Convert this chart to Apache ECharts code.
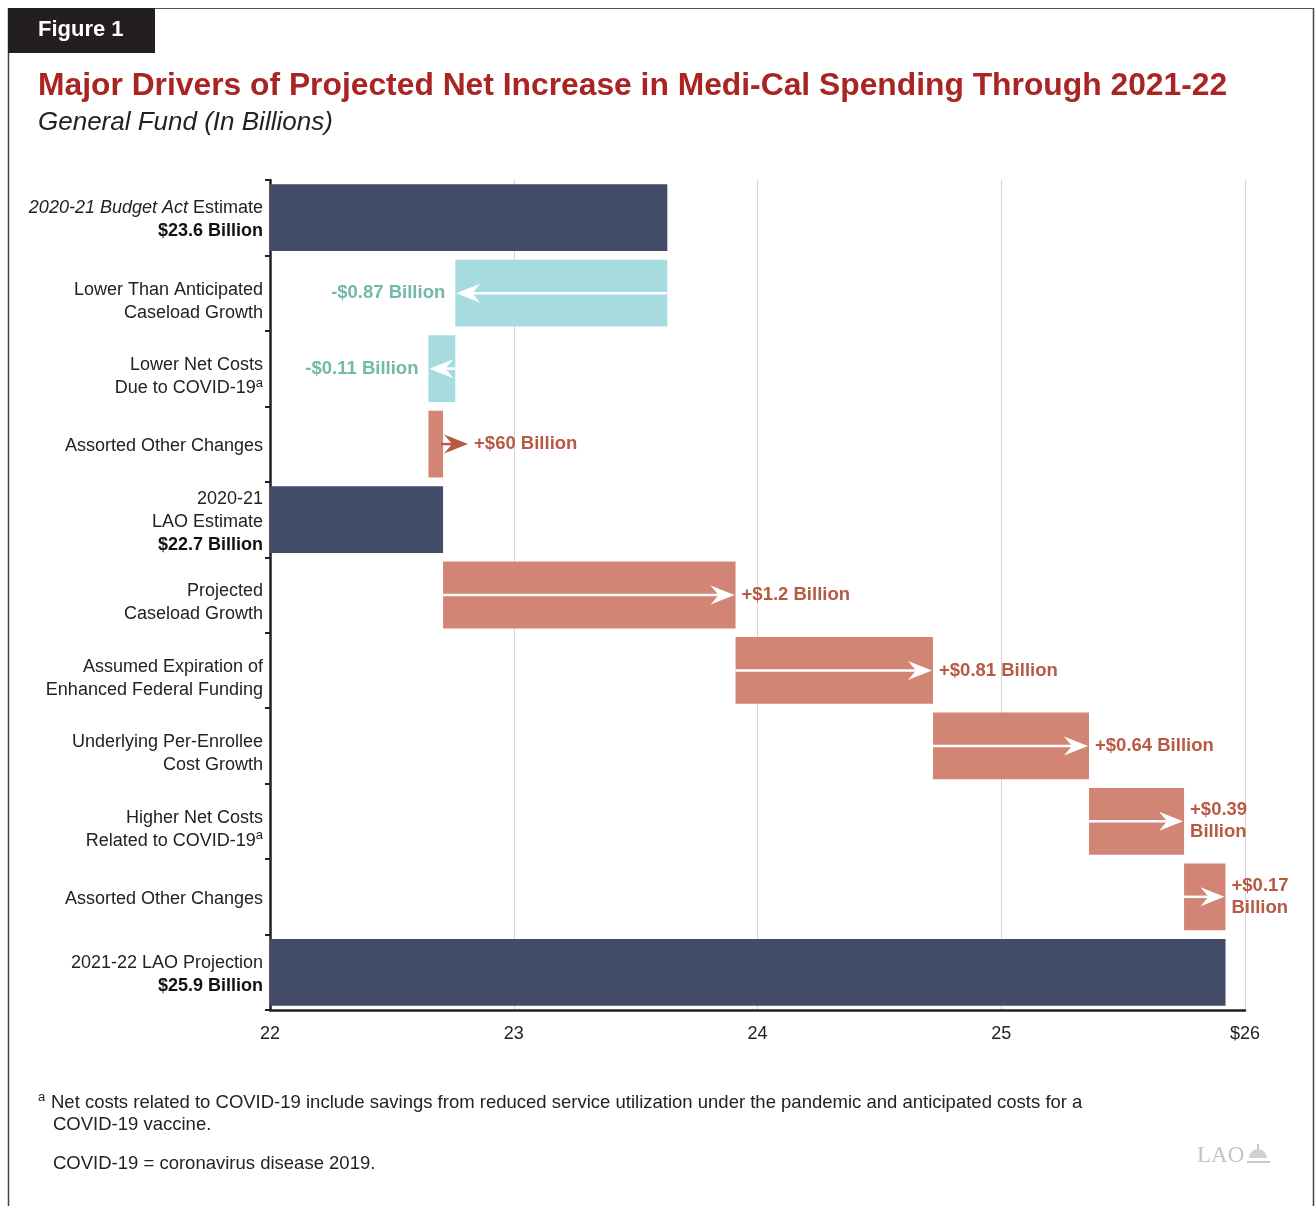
<!DOCTYPE html>
<html>
<head>
<meta charset="utf-8">
<script src="https://cdn.jsdelivr.net/npm/echarts@6/dist/echarts.min.js"></script>
<style>
  html, body { margin: 0; padding: 0; background: #fff; }
  #chart { width: 1315px; height: 1206px; }
</style>
</head>
<body>
<div id="chart"></div>
<script>
// ---- Data ----
const categories = [
  '{i|2020-21 Budget Act} Estimate\n{b|$23.6 Billion}',
  'Lower Than Anticipated\nCaseload Growth',
  'Lower Net Costs\nDue to COVID-19{sup|a}',
  'Assorted Other Changes',
  '2020-21\nLAO Estimate\n{b|$22.7 Billion}',
  'Projected\nCaseload Growth',
  'Assumed Expiration of\nEnhanced Federal Funding',
  'Underlying Per-Enrollee\nCost Growth',
  'Higher Net Costs\nRelated to COVID-19{sup|a}',
  'Assorted Other Changes',
  '2021-22 LAO Projection\n{b|$25.9 Billion}'
];
const rowType = ['total', 'delta', 'delta', 'delta', 'total', 'delta', 'delta', 'delta', 'delta', 'delta', 'total'];
const amounts = [23.63, -0.87, -0.11, 0.06, 22.71, 1.20, 0.81, 0.64, 0.39, 0.17, 25.92];
const valueLabels = ['', '-$0.87 Billion', '-$0.11 Billion', '+$60 Billion', '', '+$1.2 Billion', '+$0.81 Billion', '+$0.64 Billion', '+$0.39\nBillion', '+$0.17\nBillion', ''];
const xTicks = [22, 23, 24, 25, 26];
const xTickLabels = ['22', '23', '24', '25', '$26'];
const AXIS_MIN = 22, AXIS_MAX = 26;

// ---- Build series data (start, end, index) ----
let running = 0;
const seriesData = amounts.map((a, i) => {
  let s, e;
  if (rowType[i] === 'total') { s = AXIS_MIN; e = a; running = a; }
  else { s = running; e = running + a; running = e; }
  return [s, e, i];
});

const NAVY = '#424c68', SALMON = '#d28575', TEAL = '#a6dce0';
const RED_TXT = '#b85a43', TEAL_TXT = '#72b8ab';
const FONT = '"Liberation Sans", Arial, Helvetica, sans-serif';

// two-line plain labels sit slightly lower in the original
const yData = categories.map(c => {
  const twoPlain = c.split('\n').length === 2 && c.indexOf('{b|') < 0;
  return twoPlain ? { value: c, textStyle: { padding: [16, 0, 0, 0] } } : { value: c, textStyle: { padding: [4, 0, 0, 0] } };
});

function renderItem(params, api) {
  const s = api.value(0), e = api.value(1), idx = api.value(2);
  const p0 = api.coord([s, idx]), p1 = api.coord([e, idx]);
  const band = api.size([0, 1])[1];
  const h = band * 0.885;
  const y = p0[1];
  const x0 = Math.min(p0[0], p1[0]), x1 = Math.max(p0[0], p1[0]);
  const type = rowType[idx], amt = amounts[idx];
  const color = type === 'total' ? NAVY : (amt < 0 ? TEAL : SALMON);
  const children = [{
    type: 'rect',
    shape: { x: x0, y: y - h / 2, width: x1 - x0, height: h },
    style: { fill: color }
  }];
  if (type === 'delta') {
    const dir = amt < 0 ? -1 : 1;
    let tail, tip, aColor = '#ffffff';
    if (x1 - x0 < 20) {
      tail = p1[0] - 2 * dir; tip = p1[0] + 25 * dir; aColor = '#b85a43';
    } else {
      tail = p0[0]; tip = p1[0] - dir;
    }
    children.push({
      type: 'line',
      shape: { x1: tail, y1: y, x2: tip - 14 * dir, y2: y },
      style: { stroke: aColor, lineWidth: 2.5 }
    });
    children.push({
      type: 'polygon',
      shape: { points: [[tip, y], [tip - 24 * dir, y - 9.5], [tip - 16 * dir, y], [tip - 24 * dir, y + 9.5]] },
      style: { fill: aColor }
    });
    const lbl = valueLabels[idx];
    if (lbl) {
      const lx = dir > 0 ? Math.max(tip, x1) + 6 : x0 - 10;
      children.push({
        type: 'text',
        style: {
          x: lx, y: y, text: lbl,
          align: dir > 0 ? 'left' : 'right', verticalAlign: 'middle',
          fill: dir > 0 ? RED_TXT : TEAL_TXT,
          font: 'bold 18.5px ' + FONT, lineHeight: 22
        }
      });
    }
  }
  return { type: 'group', children };
}

const chart = echarts.init(document.getElementById('chart'));
const option = {
  animation: false,
  backgroundColor: '#ffffff',
  grid: { left: 270, right: 70, top: 180, bottom: 196, containLabel: false },
  xAxis: {
    type: 'value', min: AXIS_MIN, max: AXIS_MAX, interval: 1,
    axisLine: { show: true, lineStyle: { color: '#231f20', width: 2.5 } },
    axisTick: { show: false },
    splitLine: { show: true, lineStyle: { color: '#d4d4d4', width: 1 } },
    axisLabel: {
      margin: 15, fontSize: 18, color: '#222', fontFamily: FONT,
      formatter: v => { const k = xTicks.indexOf(v); return k >= 0 ? xTickLabels[k] : ''; }
    }
  },
  yAxis: {
    type: 'category', inverse: true, data: yData,
    axisLine: { show: true, lineStyle: { color: '#231f20', width: 2.5 } },
    axisTick: { show: true, length: 5, lineStyle: { color: '#231f20', width: 2 } },
    splitLine: { show: false },
    axisLabel: {
      margin: 7, fontSize: 18, color: '#222', fontFamily: FONT, lineHeight: 23, align: 'right',
      rich: {
        i: { fontStyle: 'italic', fontSize: 18, color: '#222', fontFamily: FONT, lineHeight: 23 },
        b: { fontWeight: 'bold', fontSize: 18, color: '#111', fontFamily: FONT, lineHeight: 23 },
        sup: { fontSize: 13, color: '#222', fontFamily: FONT, verticalAlign: 'top', lineHeight: 23, padding: [0, 0, 10, 0] }
      }
    }
  },
  series: [{
    type: 'custom',
    renderItem: renderItem,
    clip: false,
    encode: { x: [0, 1], y: 2 },
    data: seriesData
  }],
  graphic: [
    { type: 'line', shape: { x1: 8.5, y1: 8, x2: 8.5, y2: 1206 }, style: { stroke: '#444', lineWidth: 1.5 } },
    { type: 'line', shape: { x1: 8, y1: 8.5, x2: 1313.5, y2: 8.5 }, style: { stroke: '#555', lineWidth: 1.2 } },
    { type: 'line', shape: { x1: 1313.5, y1: 8, x2: 1313.5, y2: 1206 }, style: { stroke: '#444', lineWidth: 1.5 } },
    { type: 'rect', shape: { x: 8, y: 8, width: 147, height: 45 }, style: { fill: '#231f20' } },
    { type: 'text', style: { x: 38, y: 30, text: 'Figure 1', fill: '#fff', font: 'bold 22px ' + FONT, verticalAlign: 'middle' } },
    { type: 'text', style: { x: 38, y: 86, text: 'Major Drivers of Projected Net Increase in Medi-Cal Spending Through 2021-22', fill: '#a82523', font: 'bold 31.8px ' + FONT, verticalAlign: 'middle' } },
    { type: 'text', style: { x: 38, y: 123, text: 'General Fund (In Billions)', fill: '#222', font: 'italic 26px ' + FONT, verticalAlign: 'middle' } },
    { type: 'text', style: { x: 38, y: 1097, text: 'a', fill: '#222', font: '13px ' + FONT, verticalAlign: 'middle' } },
    { type: 'text', style: { x: 51, y: 1103, text: 'Net costs related to COVID-19 include savings from reduced service utilization under the pandemic and anticipated costs for a', fill: '#222', font: '18.5px ' + FONT, verticalAlign: 'middle' } },
    { type: 'text', style: { x: 53, y: 1125, text: 'COVID-19 vaccine.', fill: '#222', font: '18.5px ' + FONT, verticalAlign: 'middle' } },
    { type: 'text', style: { x: 53, y: 1164, text: 'COVID-19 = coronavirus disease 2019.', fill: '#222', font: '18.5px ' + FONT, verticalAlign: 'middle' } },
    { type: 'text', style: { x: 1197, y: 1156, text: 'LAO', fill: '#c4c4c4', font: '23px "Liberation Serif", "DejaVu Serif", serif', verticalAlign: 'middle' } },
    { type: 'sector', shape: { cx: 1258, cy: 1158, r0: 0, r: 9, startAngle: Math.PI, endAngle: 2 * Math.PI }, style: { fill: '#d0d0d0' } },
    { type: 'line', shape: { x1: 1247, y1: 1162, x2: 1270, y2: 1162 }, style: { stroke: '#c8c8c8', lineWidth: 2 } },
    { type: 'line', shape: { x1: 1258, y1: 1144, x2: 1258, y2: 1149 }, style: { stroke: '#c8c8c8', lineWidth: 2 } }
  ]
};
chart.setOption(option);
</script>
</body>
</html>
